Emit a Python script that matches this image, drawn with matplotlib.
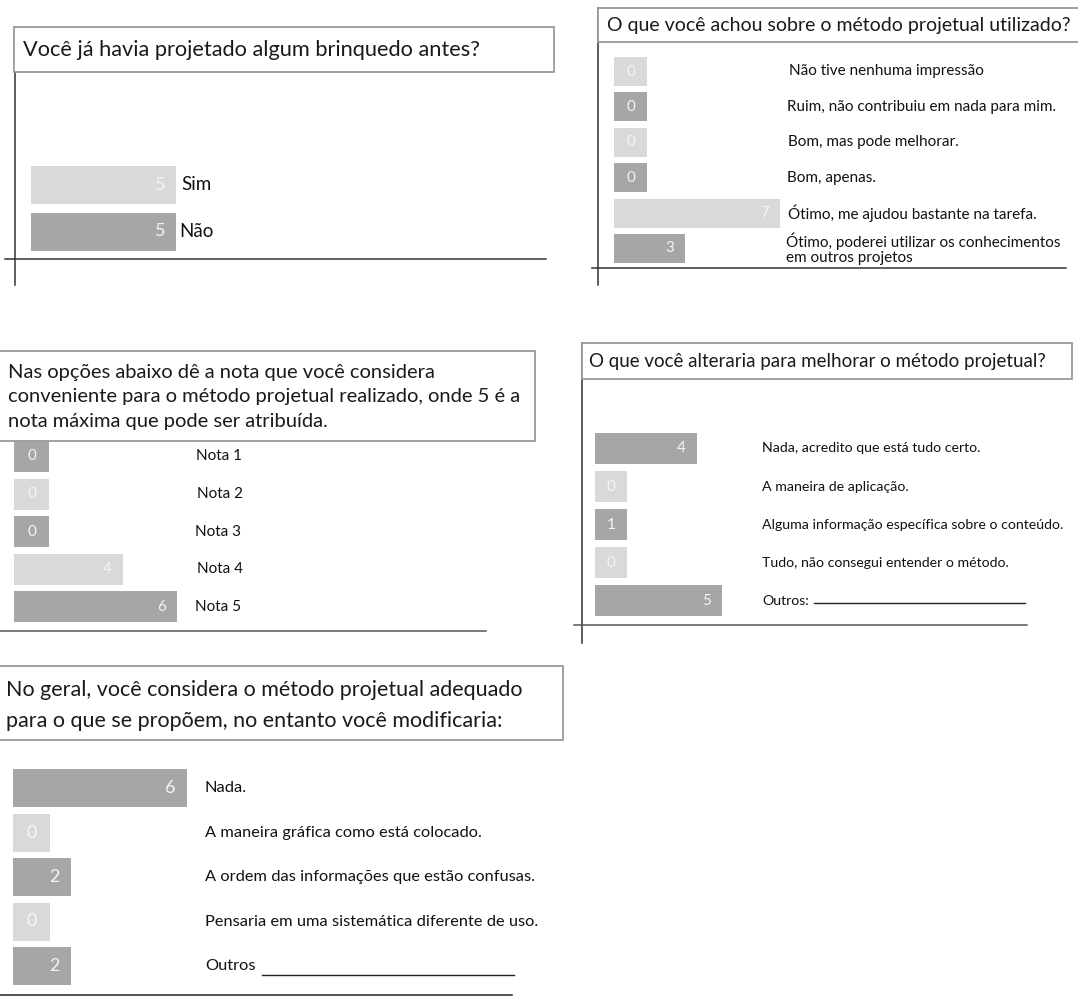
import numpy as np
import matplotlib
matplotlib.use("Agg")
import matplotlib.pyplot as plt
from matplotlib.patches import Rectangle
from matplotlib.lines import Line2D
from matplotlib import transforms

plt.rcParams['font.family'] = ['Lato', 'DejaVu Sans']

W, H = 1078, 1008

LIGHT = "#d9d9d9"
DARK = "#a6a6a6"

# --- data -------------------------------------------------------------
q1_title = "Você já havia projetado algum brinquedo antes?"
q1_labels = ["Sim", "Não"]
q1_values = [5, 5]

q2_title = "O que você achou sobre o método projetual utilizado?"
q2_labels = ["Não tive nenhuma impressão",
             "Ruim, não contribuiu em nada para mim.",
             "Bom, mas pode melhorar.",
             "Bom, apenas.",
             "Ótimo, me ajudou bastante na tarefa.",
             "Ótimo, poderei utilizar os conhecimentos\nem outros projetos"]
q2_values = [0, 0, 0, 0, 7, 3]

q3_title = ("Nas opções abaixo dê a nota que você considera\n"
            "conveniente para o método projetual realizado, onde 5 é a\n"
            "nota máxima que pode ser atribuída.")
q3_labels = ["Nota 1", "Nota 2", "Nota 3", "Nota 4", "Nota 5"]
q3_values = [0, 0, 0, 4, 6]

q4_title = "O que você alteraria para melhorar o método projetual?"
q4_labels = ["Nada, acredito que está tudo certo.",
             "A maneira de aplicação.",
             "Alguma informação específica sobre o conteúdo.",
             "Tudo, não consegui entender o método.",
             "Outros:"]
q4_values = [4, 0, 1, 0, 5]

q5_title = ("No geral, você considera o método projetual adequado\n"
            "para o que se propõem, no entanto você modificaria:")
q5_labels = ["Nada.",
             "A maneira gráfica como está colocado.",
             "A ordem das informações que estão confusas.",
             "Pensaria em uma sistemática diferente de uso.",
             "Outros"]
q5_values = [6, 0, 2, 0, 2]

fig = plt.figure(figsize=(W / 100, H / 100), dpi=100)
fig.patch.set_facecolor("white")


def fx(x):
    return x / W


def fy(y):
    return 1 - y / H


def hline(x0, x1, y, color="#333333", lw=1.1):
    fig.add_artist(Line2D([fx(x0), fx(x1)], [fy(y), fy(y)], color=color, lw=lw))


def vline(x, y0, y1, color="#333333", lw=1.1):
    fig.add_artist(Line2D([fx(x), fx(x)], [fy(y0), fy(y1)], color=color, lw=lw))


def title_box(x0, y0, x1, y1, text, tx, ty, fs, ls=1.2):
    fig.add_artist(Rectangle((fx(x0), fy(y1)), fx(x1) - fx(x0), fy(y0) - fy(y1),
                             facecolor="white", edgecolor="#9a9a9a", lw=1.3,
                             zorder=5))
    fig.text(fx(tx), fy(ty), text, ha="left", va="center", fontsize=fs,
             color="#1a1a1a", linespacing=ls, zorder=6)


def bar_panel(left, right, first_c, step, bar_h, values, colors, ppu, stub,
              labels, label_x, label_fs, value_fs=11):
    n = len(values)
    top = first_c - step / 2
    bottom = first_c + (n - 1) * step + step / 2
    ax = fig.add_axes([fx(left), fy(bottom), fx(right) - fx(left), fy(top) - fy(bottom)])
    ax.set_xlim(0, (right - left) / ppu)
    ax.set_ylim(n - 0.5, -0.5)
    ax.axis("off")
    widths = np.maximum(np.array(values, dtype=float), stub)
    ax.barh(np.arange(n), widths, height=bar_h / step, color=colors, left=0)
    pad = 11 / ppu
    for i, (v, w) in enumerate(zip(values, widths)):
        if v > stub:
            ax.text(w - pad, i, str(v), ha="right", va="center", color="#f4f4f4",
                    fontsize=value_fs)
        else:
            ax.text(w / 2, i, str(v), ha="center", va="center", color="#f4f4f4",
                    fontsize=value_fs)
    tr = transforms.blended_transform_factory(fig.transFigure, ax.transData)
    for i, lab in enumerate(labels):
        lx = label_x[i] if isinstance(label_x, (list, tuple)) else label_x
        ax.text(fx(lx), i, lab, transform=tr, ha="left", va="center",
                fontsize=label_fs, color="#111111", linespacing=1.05)
    return ax


# --- panel 1 ----------------------------------------------------------
vline(15, 27, 285)
hline(5, 546, 259)
title_box(14, 27, 554, 72, q1_title, 23, 50, 15.7)
bar_panel(31, 300, 184.5, 47, 38, q1_values, [LIGHT, DARK], 29, 1.2,
          q1_labels, [181, 179], 13.5, value_fs=13)

# --- panel 2 ----------------------------------------------------------
vline(598, 8, 285)
hline(592, 1066, 268)
title_box(598, 8, 1082, 42, q2_title, 607, 25, 14)
bar_panel(614, 1060, 71.5, 35.4, 29, q2_values,
          [LIGHT, DARK, LIGHT, DARK, LIGHT, DARK], 23.7, 1.4,
          q2_labels, [789, 787, 788, 787, 788, 786], 11)

# --- panel 3 ----------------------------------------------------------
hline(0, 486, 631, color="#555555")
bar_panel(14, 480, 456.5, 37.6, 31, q3_values,
          [DARK, LIGHT, DARK, LIGHT, DARK], 27.2, 1.29,
          q3_labels, [196, 197, 195, 197, 195], 11)
title_box(-2, 351, 535, 441, q3_title, 8, 397, 14.5, ls=1.55)

# --- panel 4 ----------------------------------------------------------
vline(582, 343, 643)
hline(574, 1027, 625, color="#555555")
title_box(582, 343, 1072, 379, q4_title, 589, 362, 13.5)
bar_panel(595, 1070, 448.5, 38.1, 31, q4_values,
          [DARK, LIGHT, DARK, LIGHT, DARK], 25.4, 1.26,
          q4_labels, 762, 10.2)
hline(814, 1025, 603, color="#222222", lw=1.0)

# --- panel 5 ----------------------------------------------------------
hline(0, 512, 995, color="#222222")
title_box(-2, 666, 563, 740, q5_title, 6, 705.5, 15.5, ls=1.65)
bar_panel(13, 560, 788, 44.5, 38, q5_values,
          [DARK, LIGHT, DARK, LIGHT, DARK], 29, 1.28,
          q5_labels, 205, 11.8, value_fs=13)
hline(262, 514, 975, color="#222222", lw=1.0)

fig.savefig("out.png", dpi=100, facecolor="white")
